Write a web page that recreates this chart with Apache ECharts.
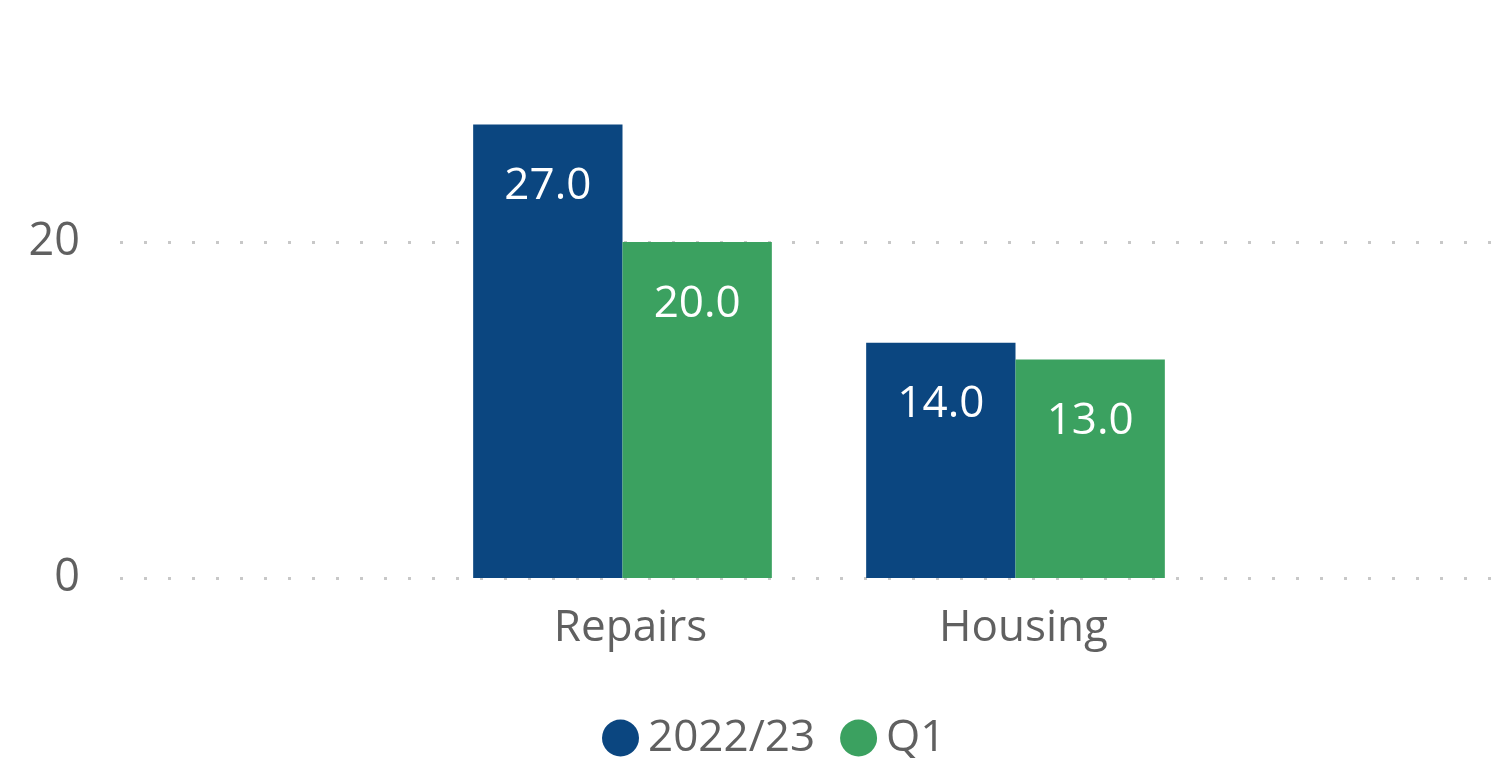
<!DOCTYPE html>
<html>
<head>
<meta charset="utf-8">
<script src="https://cdn.jsdelivr.net/npm/echarts@6/dist/echarts.min.js"></script>
<style>
  html, body { margin: 0; padding: 0; background: #fff; }
  #chart { width: 1501px; height: 767px; }
</style>
</head>
<body>
<div id="chart"></div>
<script>
  // data
  var categories = ['Repairs', 'Housing'];
  var seriesNames = ['2022/23', 'Q1'];
  var values2022 = [27, 14];
  var valuesQ1 = [20, 13];
  var yTicks = [0, 20];

  var blue = '#0b4680';
  var green = '#3ba160';
  var font = '"Open Sans", "Noto Sans", sans-serif';

  var chart = echarts.init(document.getElementById('chart'));

  // y range: 0..28, 16.8px per unit -> bottom at 578
  var yMax = 28;
  var gridTop = 578 - yMax * 16.8;
  var gridBottom = 767 - 578;

  var yBase = {
    type: 'value',
    min: 0,
    max: yMax,
    interval: 20
  };

  var option = {
    animation: false,
    legend: {
      bottom: 2,
      left: 597,
      itemWidth: 37,
      itemHeight: 37,
      itemGap: 25,
      icon: 'circle',
      textStyle: { fontFamily: font, fontSize: 44, color: '#606060', padding: [0, 0, 0, 4] },
      data: seriesNames
    },
    grid: [
      { left: 120, right: 6, top: gridTop, bottom: gridBottom },
      { left: 426, width: 786, top: gridTop, bottom: gridBottom }
    ],
    xAxis: [
      { type: 'category', gridIndex: 0, data: categories, show: false },
      {
        type: 'category', gridIndex: 1, data: categories,
        axisLine: { show: false },
        axisTick: { show: false },
        axisLabel: { fontFamily: font, fontSize: 44, color: '#606060', margin: 28, padding: [0, 0, 0, 16] }
      }
    ],
    yAxis: [
      Object.assign({}, yBase, {
        gridIndex: 0,
        axisLine: { show: false },
        axisTick: { show: false },
        axisLabel: {
          fontFamily: font, fontSize: 45, color: '#606060', margin: 40,
          showMaxLabel: false,
          formatter: function (v) { return yTicks.indexOf(v) >= 0 ? String(v) : ''; }
        },
        splitLine: {
          show: true,
          showMaxLine: false,
          lineStyle: { color: '#c8c8c8', width: 3, type: [3, 21] }
        }
      }),
      Object.assign({}, yBase, { gridIndex: 1, show: false, splitLine: { show: false } })
    ],
    series: [
      {
        name: seriesNames[0], type: 'bar', xAxisIndex: 1, yAxisIndex: 1,
        data: values2022, barGap: '0%', barCategoryGap: '24%',
        itemStyle: { color: blue },
        label: {
          show: true, position: 'insideTop', distance: 40,
          fontFamily: font, fontSize: 44, color: '#fff',
          formatter: function (p) { return p.value.toFixed(1); }
        }
      },
      {
        name: seriesNames[1], type: 'bar', xAxisIndex: 1, yAxisIndex: 1,
        data: valuesQ1, barGap: '0%', barCategoryGap: '24%',
        itemStyle: { color: green },
        label: {
          show: true, position: 'insideTop', distance: 40,
          fontFamily: font, fontSize: 44, color: '#fff',
          formatter: function (p) { return p.value.toFixed(1); }
        }
      }
    ]
  };

  chart.setOption(option);
</script>
</body>
</html>
